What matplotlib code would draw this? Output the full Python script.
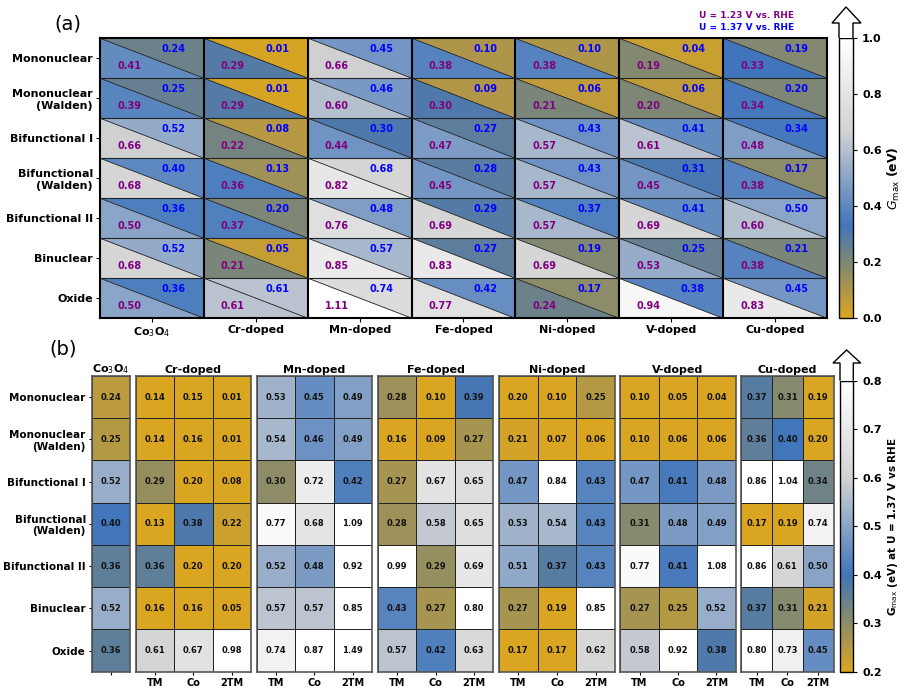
import numpy as np
import matplotlib
matplotlib.use('Agg')
import matplotlib.pyplot as plt
from matplotlib.colors import LinearSegmentedColormap, Normalize
from matplotlib.patches import Polygon
import matplotlib.cm as cm

# ---------------- data ----------------
rows = ["Mononuclear", "Mononuclear\n(Walden)", "Bifunctional I", "Bifunctional\n(Walden)",
        "Bifunctional II", "Binuclear", "Oxide"]
cols = ["Co$_3$O$_4$", "Cr-doped", "Mn-doped", "Fe-doped", "Ni-doped", "V-doped", "Cu-doped"]

# panel (a): U = 1.37 V (upper triangle) and U = 1.23 V (lower triangle)
g_137 = [[0.24, 0.01, 0.45, 0.10, 0.10, 0.04, 0.19],
         [0.25, 0.01, 0.46, 0.09, 0.06, 0.06, 0.20],
         [0.52, 0.08, 0.30, 0.27, 0.43, 0.41, 0.34],
         [0.40, 0.13, 0.68, 0.28, 0.43, 0.31, 0.17],
         [0.36, 0.20, 0.48, 0.29, 0.37, 0.41, 0.50],
         [0.52, 0.05, 0.57, 0.27, 0.19, 0.25, 0.21],
         [0.36, 0.61, 0.74, 0.42, 0.17, 0.38, 0.45]]
g_123 = [[0.41, 0.29, 0.66, 0.38, 0.38, 0.19, 0.33],
         [0.39, 0.29, 0.60, 0.30, 0.21, 0.20, 0.34],
         [0.66, 0.22, 0.44, 0.47, 0.57, 0.61, 0.48],
         [0.68, 0.36, 0.82, 0.45, 0.57, 0.45, 0.38],
         [0.50, 0.37, 0.76, 0.69, 0.57, 0.69, 0.60],
         [0.68, 0.21, 0.85, 0.83, 0.69, 0.53, 0.38],
         [0.50, 0.61, 1.11, 0.77, 0.24, 0.94, 0.83]]

# panel (b): site resolved values at U = 1.37 V
sites = ["TM", "Co", "2TM"]
b_co3o4 = [[0.24], [0.25], [0.52], [0.40], [0.36], [0.52], [0.36]]
b_cr = [[0.14, 0.15, 0.01], [0.14, 0.16, 0.01], [0.29, 0.20, 0.08], [0.13, 0.38, 0.22],
        [0.36, 0.20, 0.20], [0.16, 0.16, 0.05], [0.61, 0.67, 0.98]]
b_mn = [[0.53, 0.45, 0.49], [0.54, 0.46, 0.49], [0.30, 0.72, 0.42], [0.77, 0.68, 1.09],
        [0.52, 0.48, 0.92], [0.57, 0.57, 0.85], [0.74, 0.87, 1.49]]
b_fe = [[0.28, 0.10, 0.39], [0.16, 0.09, 0.27], [0.27, 0.67, 0.65], [0.28, 0.58, 0.65],
        [0.99, 0.29, 0.69], [0.43, 0.27, 0.80], [0.57, 0.42, 0.63]]
b_ni = [[0.20, 0.10, 0.25], [0.21, 0.07, 0.06], [0.47, 0.84, 0.43], [0.53, 0.54, 0.43],
        [0.51, 0.37, 0.43], [0.27, 0.19, 0.85], [0.17, 0.17, 0.62]]
b_v = [[0.10, 0.05, 0.04], [0.10, 0.06, 0.06], [0.47, 0.41, 0.48], [0.31, 0.48, 0.49],
       [0.77, 0.41, 1.08], [0.27, 0.25, 0.52], [0.58, 0.92, 0.38]]
b_cu = [[0.37, 0.31, 0.19], [0.36, 0.40, 0.20], [0.86, 1.04, 0.34], [0.17, 0.19, 0.74],
        [0.86, 0.61, 0.50], [0.37, 0.31, 0.21], [0.80, 0.73, 0.45]]

# ---------------- style ----------------
W, H = 904, 692
cmap = LinearSegmentedColormap.from_list(
    'gmax', [(0.0, '#DAA520'), (0.2, '#7e8776'), (0.33, '#4075bb'),
             (0.67, '#d3d3d3'), (1.0, 'white')])


def box(x0, y0, x1, y1):
    # pixel box (top-left origin) -> figure fraction
    return [x0 / W, 1 - y1 / H, (x1 - x0) / W, (y1 - y0) / H]


def add_arrow(fig, x0, x1, ytop, yhead, ytip, hx0, hx1):
    pts = [(x0, ytop), (x0, yhead), (hx0, yhead), ((x0 + x1) / 2, ytip),
           (hx1, yhead), (x1, yhead), (x1, ytop)]
    pts = [(x / W, 1 - y / H) for x, y in pts]
    fig.add_artist(Polygon(pts, closed=False, facecolor='white', edgecolor='black',
                           lw=1.0, transform=fig.transFigure, zorder=5))


def bold_ticks(ax):
    for t in ax.get_xticklabels() + ax.get_yticklabels():
        t.set_fontweight('bold')


fig = plt.figure(figsize=(W / 100, H / 100), dpi=100)

# ---------------- panel (a) ----------------
norm_a = Normalize(0.0, 1.0)
ax = fig.add_axes(box(100, 38, 827, 318))
up = np.array(g_137)
lo = np.array(g_123)
for i in range(len(rows)):
    for j in range(len(cols)):
        tri_up = Polygon([(j, i), (j + 1, i), (j + 1, i + 1)], closed=True,
                         facecolor=cmap(norm_a(up[i, j])), edgecolor='#222222', lw=0.5)
        tri_lo = Polygon([(j, i), (j, i + 1), (j + 1, i + 1)], closed=True,
                         facecolor=cmap(norm_a(lo[i, j])), edgecolor='#222222', lw=0.5)
        ax.add_patch(tri_up)
        ax.add_patch(tri_lo)
        ax.text(j + 0.71, i + 0.27, '%.2f' % up[i, j], color='blue', fontsize=7,
                fontweight='bold', ha='center', va='center')
        ax.text(j + 0.28, i + 0.70, '%.2f' % lo[i, j], color='purple', fontsize=7,
                fontweight='bold', ha='center', va='center')
for j in range(1, len(cols)):
    ax.axvline(j, color='black', lw=1.5)
for i in range(1, len(rows)):
    ax.axhline(i, color='#222222', lw=0.8)
ax.set_xlim(0, len(cols))
ax.set_ylim(len(rows), 0)
ax.set_xticks(np.arange(len(cols)) + 0.5)
ax.set_xticklabels(cols, fontsize=8)
ax.set_yticks(np.arange(len(rows)) + 0.5)
ax.set_yticklabels(rows, fontsize=8)
ax.tick_params(length=3, pad=2)
bold_ticks(ax)
for s in ax.spines.values():
    s.set_linewidth(1.5)

cax = fig.add_axes(box(839, 38, 853, 318))
cb = fig.colorbar(cm.ScalarMappable(norm=norm_a, cmap=cmap), cax=cax)
cb.set_ticks([0.0, 0.2, 0.4, 0.6, 0.8, 1.0])
cb.outline.set_linewidth(1.0)
cax.tick_params(labelsize=8, length=3)
bold_ticks(cax)
cb.set_label(r'$G_{\rm max}$ $\mathbf{(eV)}$', fontsize=9, labelpad=3)
add_arrow(fig, 839, 853, 38, 23, 7, 832, 861)

fig.text(794 / W, 1 - 16 / H, 'U = 1.23 V vs. RHE', color='purple', fontsize=6.5,
         fontweight='bold', ha='right', va='center')
fig.text(794 / W, 1 - 27 / H, 'U = 1.37 V vs. RHE', color='blue', fontsize=6.5,
         fontweight='bold', ha='right', va='center')
fig.text(68 / W, 1 - 24 / H, '(a)', fontsize=14, ha='center', va='center')

# ---------------- panel (b) ----------------
norm_b = Normalize(0.2, 0.8)
groups = [("Co$_3$O$_4$", b_co3o4, 92, 130),
          ("Cr-doped", b_cr, 135.7, 251),
          ("Mn-doped", b_mn, 256.7, 372),
          ("Fe-doped", b_fe, 378, 493.3),
          ("Ni-doped", b_ni, 499, 615),
          ("V-doped", b_v, 620.3, 735.7),
          ("Cu-doped", b_cu, 741.3, 833.7)]
for k, (name, vals, x0, x1) in enumerate(groups):
    v = np.array(vals)
    bx = fig.add_axes(box(x0, 376, x1, 671.7))
    bx.pcolormesh(v, cmap=cmap, norm=norm_b, edgecolors='#222222', linewidth=0.6)
    bx.set_xlim(0, v.shape[1])
    bx.set_ylim(v.shape[0], 0)
    for i in range(v.shape[0]):
        for j in range(v.shape[1]):
            bx.text(j + 0.5, i + 0.5, '%.2f' % v[i, j], fontsize=6, fontweight='bold',
                    ha='center', va='center', color='#111111')
    bx.set_title(name, fontsize=8, fontweight='bold', pad=2)
    bx.set_xticks(np.arange(v.shape[1]) + 0.5)
    if v.shape[1] == 1:
        bx.set_xticklabels([''])
    else:
        bx.set_xticklabels(sites, fontsize=7)
    if k == 0:
        bx.set_yticks(np.arange(len(rows)) + 0.5)
        bx.set_yticklabels(rows, fontsize=7.5)
    else:
        bx.set_yticks([])
    bx.tick_params(length=2.5, pad=2)
    bold_ticks(bx)
    for s in bx.spines.values():
        s.set_color('#555555')
        s.set_linewidth(1.2)

cbx = fig.add_axes(box(840, 380.7, 853.3, 671.7))
cb2 = fig.colorbar(cm.ScalarMappable(norm=norm_b, cmap=cmap), cax=cbx)
cb2.set_ticks([0.2, 0.3, 0.4, 0.5, 0.6, 0.7, 0.8])
cb2.outline.set_linewidth(1.0)
cbx.tick_params(labelsize=8, length=3)
bold_ticks(cbx)
cb2.set_label(r'G$_{\rm max}$ (eV) at U = 1.37 V vs RHE', fontsize=7.5,
              fontweight='bold', labelpad=3)
add_arrow(fig, 840, 853.3, 380.7, 363, 350, 833, 860.7)

fig.text(63 / W, 1 - 349 / H, '(b)', fontsize=14, ha='center', va='center')

fig.savefig('out.png', dpi=100)
